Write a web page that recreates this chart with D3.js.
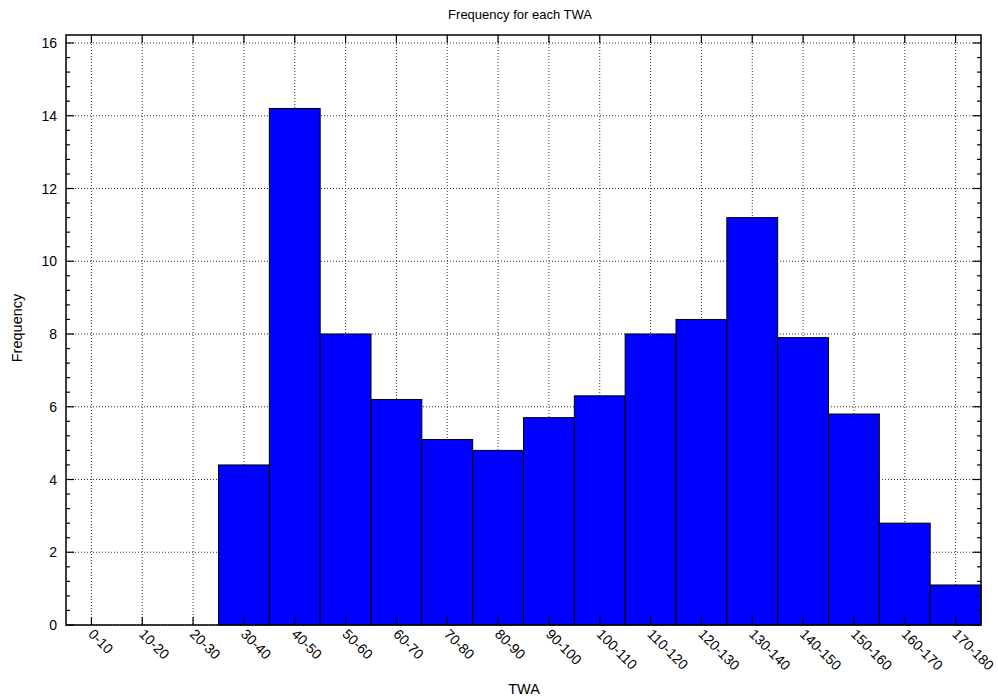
<!DOCTYPE html>
<html><head><meta charset="utf-8">
<script src="https://cdn.jsdelivr.net/npm/d3@7"></script>
<style>body{margin:0;background:#fff}text{font-family:"Liberation Sans",Arial,sans-serif;}</style>
</head><body><svg id="c" width="998" height="700"></svg>
<script>
const categories = ["0-10","10-20","20-30","30-40","40-50","50-60","60-70","70-80","80-90","90-100","100-110","110-120","120-130","130-140","140-150","150-160","160-170","170-180"];
const frequency = [0,0,0,4.4,14.2,8.0,6.2,5.1,4.8,5.7,6.3,8.0,8.4,11.2,7.9,5.8,2.8,1.1];
const yTicks = [0,2,4,6,8,10,12,14,16];
const yMinorTicks = d3.range(0, 16.01, 0.4);

const svg = d3.select("#c");
const L=66, R=981, T=35, B=625;
const x = d3.scaleBand().domain(categories).range([L,R]).paddingInner(0).paddingOuter(0);
const y = d3.scaleLinear().domain([0,16]).range([B,43]);
const xc = c => x(c) + x.bandwidth()/2;

// grid
const g = svg.append("g");
g.selectAll(".gy").data(yTicks).enter().append("line")
  .attr("x1",L).attr("x2",R).attr("y1",d=>y(d)).attr("y2",d=>y(d))
  .attr("stroke","#333").attr("stroke-width",1).attr("stroke-dasharray","1,2");
g.selectAll(".gx").data(categories).enter().append("line")
  .attr("x1",d=>xc(d)).attr("x2",d=>xc(d)).attr("y1",T).attr("y2",B)
  .attr("stroke","#333").attr("stroke-width",1).attr("stroke-dasharray","1,2");

// bars
svg.append("g").selectAll("rect").data(categories.map((c,i)=>({c,v:frequency[i]})).filter(d=>d.v>0))
  .enter().append("rect")
  .attr("x",d=>x(d.c)).attr("width",x.bandwidth())
  .attr("y",d=>y(d.v)).attr("height",d=>B-y(d.v))
  .attr("fill","#0000ff").attr("stroke","#000").attr("stroke-width",1);

// ticks
const tk = svg.append("g").attr("stroke","#000").attr("stroke-width",1.2);
yMinorTicks.forEach(v=>{
  const major = Math.abs(v/2-Math.round(v/2))<1e-6;
  const len = major?8:4;
  tk.append("line").attr("x1",L).attr("x2",L+len).attr("y1",y(v)).attr("y2",y(v));
  tk.append("line").attr("x1",R).attr("x2",R-len).attr("y1",y(v)).attr("y2",y(v));
});
categories.forEach(c=>{
  tk.append("line").attr("x1",xc(c)).attr("x2",xc(c)).attr("y1",B).attr("y2",B-8);
  tk.append("line").attr("x1",xc(c)).attr("x2",xc(c)).attr("y1",T).attr("y2",T+8);
});

// frame
svg.append("rect").attr("x",L).attr("y",T).attr("width",R-L).attr("height",B-T)
  .attr("fill","none").attr("stroke","#000").attr("stroke-width",1.5);

// y labels
svg.append("g").selectAll("text").data(yTicks).enter().append("text")
  .attr("x",57).attr("y",d=>y(d)+5).attr("text-anchor","end")
  .attr("font-size",14).text(d=>d);

// x labels
svg.append("g").selectAll("text").data(categories).enter().append("text")
  .attr("transform",d=>`translate(${xc(d)-4},${B+10}) rotate(45)`)
  .attr("text-anchor","start").attr("font-size",14).text(d=>d);

svg.append("text").attr("x",520).attr("y",19).attr("text-anchor","middle").attr("font-size",13).text("Frequency for each TWA");
svg.append("text").attr("x",524).attr("y",694).attr("text-anchor","middle").attr("font-size",14.5).text("TWA");
svg.append("text").attr("transform","translate(22,328) rotate(-90)").attr("text-anchor","middle").attr("font-size",14.5).text("Frequency");
</script></body></html>
